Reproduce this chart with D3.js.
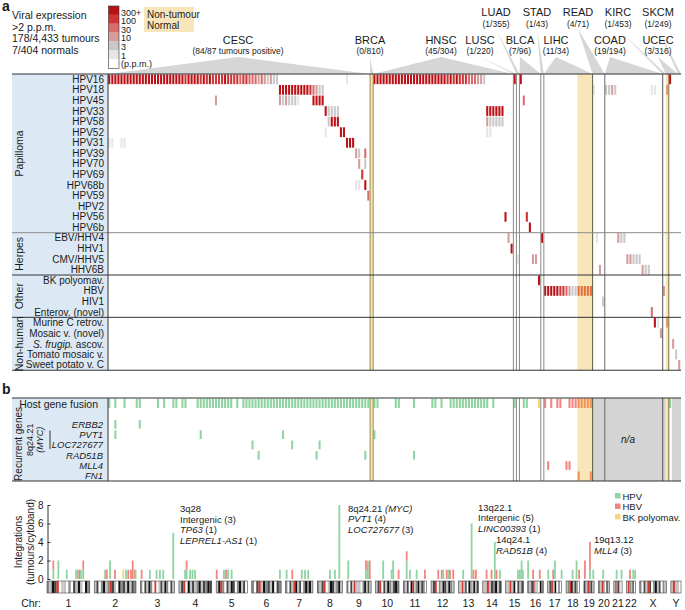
<!DOCTYPE html>
<html>
<head>
<meta charset="utf-8">
<script src="https://d3js.org/d3.v7.min.js"></script>
<style>
body { margin: 0; background: #fff; }
svg text { font-family: "Liberation Sans", Arial, Helvetica, sans-serif; fill: #1a1a1a; }
</style>
</head>
<body>
<div id="chart"></div>
<script>
// ---------- data: panel a ----------
// sample columns, left to right, grouped by cancer type
var sectionNames  = ["CESC","BRCA","HNSC","LUSC","LUAD","BLCA","STAD","LIHC","LIHC","READ","COAD","KIRC","UCEC","UCEC","SKCM"];
var sectionSizes  = [86, 1, 46, 1, 1, 7, 1, 11, 5, 4, 19, 1, 1, 3, 1];
var sectionNormal = [false, true, false, false, false, false, false, false, true, false, false, false, true, false, false];

var headerTop    = ["LUAD","STAD","READ","KIRC","SKCM"];
var headerTopN   = ["(1/355)","(1/43)","(4/71)","(1/453)","(1/249)"];
var headerTopCols = [[134,134],[142,142],[159,162],[182,182],[187,187]];
var headerBot    = ["CESC","BRCA","HNSC","LUSC","BLCA","LIHC","COAD","UCEC"];
var headerBotN   = ["(84/87 tumours positive)","(0/810)","(45/304)","(1/220)","(7/96)","(11/34)","(19/194)","(3/316)"];
var headerBotCols = [[0,85],[86,86],[87,132],[133,133],[135,141],[143,158],[163,181],[183,186]];

var groups = ["Papilloma","Herpes","Other","Non-human"];
var groupSizes = [15, 4, 4, 5];
var viruses = ["HPV16","HPV18","HPV45","HPV33","HPV58","HPV52","HPV31","HPV39","HPV70","HPV69","HPV68b","HPV59","HPV2","HPV56","HPV6b",
  "EBV/HHV4","HHV1","CMV/HHV5","HHV6B",
  "BK polyomav.","HBV","HIV1","Enterov. (novel)",
  "Murine C retrov.","Mosaic v. (novel)","S. frugip. ascov.","Tomato mosaic v.","Sweet potato v. C"];

// expression level per cell: 0=1, 1=3, 2=10, 3=30, 4=100, 5=300+ p.p.m. ; [first column, levels]
var hpv16 = [[0,"555555555555555555555555545555" + "4545444454444344" + "3332321211"], [78,"0"],
             [87,"555555555555555555555555" + "4545444" + "333221"], [133,"5"], [135,"5"], [184,"5"]];
var hpv18 = [[56,"555555555543211"], [159,"0"], [163,"1121"], [178,"00"], [183,"2"]];
var hpv45 = [[35,"2"], [56,"2121110"], [67,"5555"], [136,"3"]];
var hpv33 = [[71,"51111"], [124,"555555"]];
var hpv58 = [[72,"1555"], [124,"211111"]];
var hpv52 = [[71,"0"], [76,"55"], [124,"00"]];
var hpv31 = [[0,"00"], [4,"00"], [78,"555"]];
var hpv39 = [[81,"21"], [84,"3"]];
var hpv70 = [[82,"2"], [84,"1"]];
var hpv69 = [[83,"4"]];
var hpv68b = [[81,"00"], [84,"5"]];
var hpv59 = [[85,"3"]];
var hpv2 = [];
var hpv56 = [[130,"5"], [137,"4"]];
var hpv6b = [[138,"5"]];
var ebv = [[131,"2"], [142,"5"], [160,"0"], [167,"211"]];
var hhv1 = [[132,"5"]];
var cmv = [[134,"0"], [139,"22"], [170,"22111"]];
var hhv6b = [[161,"2"], [175,"211"]];
var bkv = [[141,"5"]];
var hbv = [[143,"55555443211"], [154,"44444"], [182,"2"]];
var hiv1 = [[162,"1"]];
var enterov = [[178,"3"]];
var murine = [[179,"50"], [183,"2"]];
var mosaic = [[181,"2"]];
var sfrugip = [[185,"2"]];
var tomato = [[186,"1"]];
var sweetPotato = [[187,"2"]];
var virusCells = [hpv16,hpv18,hpv45,hpv33,hpv58,hpv52,hpv31,hpv39,hpv70,hpv69,hpv68b,hpv59,hpv2,hpv56,hpv6b,
  ebv,hhv1,cmv,hhv6b,bkv,hbv,hiv1,enterov,murine,mosaic,sfrugip,tomato,sweetPotato];

var levelLabels = ["300+","100","30","10","3","1","(p.p.m.)"];

// ---------- data: panel b ----------
var fusionHPV = [[0,0],[2,2],[5,5],[9,10],[16,16],[18,18],[21,22],[24,25],[29,40],[42,42],[44,85],
                 [87,88],[94,95],[100,100],[106,107],[109,109],[112,124],[126,126],[133,133],[136,137],[184,184]];
var fusionHBV = [[143,143],[145,145],[147,148],[151,158]];
var fusionBK  = [[141,141]];
var recurrentGenes = ["ERBB2","PVT1","LOC727677","RAD51B","MLL4","FN1"];
var recurrentCols  = [[2,10],[2,30,57,87],[47,60,69],[49,68,84,100],[144,150,151],[154,158]];
var recurrentVirus = ["HPV","HPV","HPV","HPV","HBV","HBV"];
var naCols = [[159,182],[185,187]];

// ---------- data: integrations per cytoband ----------
var chrNames = ["1","2","3","4","5","6","7","8","9","10","11","12","13","14","15","16","17","18","19","20","21","22","X","Y"];
var chrLengths = [249,243,198,191,181,171,159,146,141,136,135,134,115,107,103,90,81,78,59,63,48,51,155,59];
var chrBands = ["2143c0110203141042","1302412c31042314132","2031420c013142031","13c041312413243","14c203143024130","203c142314032",
  "2031c413024241","213c01431241","2031c111024131","13c031421342","21304c1241320","13c021431421","11c130421413",
  "11c132413","11c140313","213c11042","13c14020","12c41320","31c231","21c2031","1c2310","1c2130","2031c302413021","1c110"];
// [chromosome index, position (Mb), HPV, HBV, BK polyomavirus]
var integrations = [
  [0,37,1,1,0],[0,66,2,0,0],[0,115,1,0,0],[0,169,1,0,0],[0,179,1,0,0],[0,188,0,1,0],[0,198,1,0,0],[0,211,1,1,0],
  [1,63,1,0,0],[1,73,0,1,0],[1,92,2,0,0],[1,121,0,1,0],[1,169,0,0,1],[1,185,1,0,0],[1,198,0,1,0],[1,214,0,1,0],[1,224,0,2,0],[1,237,0,1,0],[1,241,1,0,0],
  [2,7,0,1,0],[2,55,1,0,0],[2,94,1,0,0],[2,113,1,0,0],[2,133,1,0,0],[2,191,5,0,0],
  [3,36,1,0,0],[3,45,1,1,0],[3,65,1,0,0],[3,79,1,0,0],[3,94,1,0,0],
  [4,3,0,1,0],[4,45,1,0,0],[4,57,0,1,0],[4,69,1,0,0],[4,90,1,0,0],
  [5,164,1,0,0],
  [6,6,1,0,0],[6,39,0,1,0],[6,94,1,0,0],[6,113,1,0,0],[6,132,1,0,0],
  [7,73,1,0,0],[7,102,1,0,0],[7,128,8,0,0],
  [8,8,2,0,0],[8,111,1,1,0],[8,122,2,0,0],[8,133,0,2,0],
  [9,44,2,0,0],[9,93,1,0,0],[9,102,2,0,0],[9,134,0,1,0],
  [10,19,2,1,0],[10,38,1,0,0],[10,77,1,0,0],[10,125,0,1,0],
  [11,42,0,1,0],[11,62,0,1,0],[11,71,1,0,0],[11,91,0,1,0],[11,100,1,0,0],[11,110,0,1,0],[11,129,0,1,0],
  [12,27,1,0,0],[12,76,6,0,0],[12,87,0,1,0],[12,101,0,1,0],
  [13,22,0,1,0],[13,51,0,1,0],[13,70,4,0,0],[13,80,0,1,0],[13,100,1,0,0],
  [14,72,1,0,0],[14,83,1,0,0],[14,93,2,0,0],[14,100,1,0,0],
  [15,2,2,0,0],[15,31,0,1,0],[15,70,0,1,0],
  [16,3,1,0,0],[16,32,0,1,0],[16,42,2,0,0],[16,81,1,0,0],
  [17,38,1,0,0],[17,61,2,0,0],[17,76,0,1,0],
  [18,6,0,2,0],[18,35,1,3,0],[18,54,1,0,0],
  [19,27,1,0,0],
  [20,16,1,0,0],[20,45,1,0,0],
  [21,20,0,1,0],[21,39,1,0,0],[21,50,1,0,0]
];
var integrationTicks = [0,2,4,6,8];
var virusLegend = ["HPV","HBV","BK polyomav."];
// hot-spot notes: [text, italic] pieces per line
var hotspotNotes = [
  [[["3q28",0]],[["Intergenic (3)",0]],[["TP63",1],[" (1)",0]],[["LEPREL1-AS1",1],[" (1)",0]]],
  [[["8q24.21 ",0],["(MYC)",1]],[["PVT1",1],[" (4)",0]],[["LOC727677",1],[" (3)",0]]],
  [[["13q22.1",0]],[["Intergenic (5)",0]],[["LINC00393",1],[" (1)",0]]],
  [[["14q24.1",0]],[["RAD51B",1],[" (4)",0]]],
  [[["19q13.12",0]],[["MLL4",1],[" (3)",0]]]
];

// ---------- layout ----------
var notePos = [[180,508],[348,507.5],[478,506.5],[496,539],[594,539]];
var headerTopX = [496,537,578,618,658];
var headerBotX = [238,370,441,480,520,556,610,658];
var levelColours = ["#e6e6e6","#c9c9c9","#d59c9c","#d96b6b","#cf3535","#bb1016"];
var virusColour = {HPV:"#8fd4a2", HBV:"#f2857c", BK:"#f5d77a"};
var beige = "#f8e6ba", panelBlue = "#dce9f5", fanGrey = "#d6d6d6";

var svg = d3.select("#chart").append("svg").attr("width", 685).attr("height", 610);

var secStart = [], acc = 0;
sectionSizes.forEach(function(n) { secStart.push(acc); acc += n; });
var nCols = acc;
var isNormal = {};
sectionNormal.forEach(function(nrm, i) {
  if (nrm) for (var c = secStart[i]; c < secStart[i] + sectionSizes[i]; c++) isNormal[c] = true;
});

var x = d3.scaleBand().domain(d3.range(nCols)).range([108, 681]);
var bw = x.bandwidth();
var rowH = 10.58;
var aTop = 74, aBot = aTop + rowH * viruses.length;
var y = d3.scaleBand().domain(d3.range(viruses.length)).range([aTop, aBot]);
// panel b rows
var bTop = 398, hostH = 10.6, recTop = 419.2, recH = 10.3;
var bBot = recTop + recH * 6;

function cellColour(col, colour) {
  return isNormal[col] ? d3.interpolateRgb(colour, "#f39a35")(0.55) : colour;
}

// ---------- panel a header ----------
svg.append("text").attr("x", 2).attr("y", 10.5).style("font-size", "14px").style("font-weight", "bold").text("a");
svg.append("text").attr("x", 2).attr("y", 394).style("font-size", "14px").style("font-weight", "bold").text("b");

var intro = ["Viral expression", ">2 p.p.m.", "178/4,433 tumours", "7/404 normals"];
intro.forEach(function(t, i) {
  svg.append("text").attr("x", 12).attr("y", 15 + i * 11.5).attr("dominant-baseline", "central")
    .style("font-size", "10.5px").text(t);
});

// colour key
var keyColours = levelColours.slice().reverse().concat(["#ffffff"]);
keyColours.forEach(function(c, i) {
  svg.append("rect").attr("x", 108.5).attr("y", 6 + i * 8.9).attr("width", 10.5).attr("height", 8.9).attr("fill", c);
});
svg.append("rect").attr("x", 108.5).attr("y", 6).attr("width", 10.5).attr("height", 8.9 * 7)
  .attr("fill", "none").attr("stroke", "#333").attr("stroke-width", 0.6);
levelLabels.forEach(function(t, i) {
  svg.append("text").attr("x", 121).attr("y", 12.5 + i * 8.6).attr("dominant-baseline", "central")
    .style("font-size", "9px").text(t);
});
svg.append("rect").attr("x", 144).attr("y", 7).attr("width", 50).attr("height", 25).attr("fill", beige);
svg.append("text").attr("x", 147).attr("y", 14).attr("dominant-baseline", "central").style("font-size", "10px").text("Non-tumour");
svg.append("text").attr("x", 147).attr("y", 25.5).attr("dominant-baseline", "central").style("font-size", "10px").text("Normal");

// fans from cancer labels to their columns
function fan(lx, ly, cols) {
  var x0 = x(cols[0]), x1 = x(cols[1]) + bw;
  svg.append("path").attr("d", "M" + lx + "," + ly + "L" + x1 + "," + aTop + "L" + x0 + "," + aTop + "Z")
    .attr("fill", fanGrey);
}
headerTopCols.forEach(function(c, i) { fan(headerTopX[i], 29, c); });
headerBotCols.forEach(function(c, i) { fan(headerBotX[i], 57, c); });

headerTop.forEach(function(t, i) {
  svg.append("text").attr("x", headerTopX[i]).attr("y", 12).attr("text-anchor", "middle").attr("dominant-baseline", "central")
    .style("font-size", "11px").text(t);
  svg.append("text").attr("x", headerTopX[i]).attr("y", 23.5).attr("text-anchor", "middle").attr("dominant-baseline", "central")
    .style("font-size", "8.5px").text(headerTopN[i]);
});
headerBot.forEach(function(t, i) {
  svg.append("text").attr("x", headerBotX[i]).attr("y", 39.5).attr("text-anchor", "middle").attr("dominant-baseline", "central")
    .style("font-size", "11px").text(t);
  svg.append("text").attr("x", headerBotX[i]).attr("y", 51).attr("text-anchor", "middle").attr("dominant-baseline", "central")
    .style("font-size", "8.5px").text(headerBotN[i]);
});

// ---------- backgrounds ----------
svg.append("rect").attr("x", 12).attr("y", aTop).attr("width", 96).attr("height", aBot - aTop).attr("fill", panelBlue);
svg.append("rect").attr("x", 12).attr("y", bTop).attr("width", 96).attr("height", bBot - bTop).attr("fill", panelBlue);

sectionNormal.forEach(function(nrm, i) {
  if (!nrm) return;
  var x0 = x(secStart[i]), w = sectionSizes[i] * bw;
  [[aTop, aBot], [bTop, bBot]].forEach(function(p) {
    svg.append("rect").attr("x", x0).attr("y", p[0]).attr("width", w).attr("height", p[1] - p[0]).attr("fill", beige);
  });
});
naCols.forEach(function(r) {
  svg.append("rect").attr("x", x(r[0])).attr("y", bTop).attr("width", x(r[1]) + bw - x(r[0])).attr("height", bBot - bTop)
    .attr("fill", "#d4d4d4");
});
svg.append("text").attr("x", 628).attr("y", (bTop + bBot) / 2).attr("text-anchor", "middle").attr("dominant-baseline", "central")
  .style("font-size", "10px").style("font-style", "italic").text("n/a");

// ---------- heatmap cells ----------
var cells = [];
virusCells.forEach(function(runs, r) {
  runs.forEach(function(run) {
    run[1].split("").forEach(function(ch, k) { cells.push({row: r, col: run[0] + k, level: +ch}); });
  });
});
svg.append("g").selectAll("rect").data(cells).enter().append("rect")
  .attr("x", function(d) { return x(d.col) + 0.25; })
  .attr("y", function(d) { return y(d.row) + 0.4; })
  .attr("width", bw * 0.68)
  .attr("height", rowH - 0.8)
  .attr("fill", function(d) { return cellColour(d.col, levelColours[d.level]); });

// ---------- panel b cells ----------
var fusion = [];
[[fusionHPV, "HPV"], [fusionHBV, "HBV"], [fusionBK, "BK"]].forEach(function(f) {
  f[0].forEach(function(r) { for (var c = r[0]; c <= r[1]; c++) fusion.push({col: c, v: f[1]}); });
});
svg.append("g").selectAll("rect").data(fusion).enter().append("rect")
  .attr("x", function(d) { return x(d.col) + 0.25; })
  .attr("y", bTop + 0.6)
  .attr("width", bw * 0.68)
  .attr("height", hostH - 1.2)
  .attr("fill", function(d) { return cellColour(d.col, virusColour[d.v]); });

var rec = [];
recurrentCols.forEach(function(cols, i) {
  cols.forEach(function(c) { rec.push({row: i, col: c, v: recurrentVirus[i]}); });
});
svg.append("g").selectAll("rect").data(rec).enter().append("rect")
  .attr("x", function(d) { return x(d.col) + 0.25; })
  .attr("y", function(d) { return recTop + d.row * recH + 0.8; })
  .attr("width", bw * 0.68)
  .attr("height", recH - 1.6)
  .attr("fill", function(d) { return cellColour(d.col, virusColour[d.v]); });

// ---------- separators ----------
var vlines = [[86,"#9c8b4c"],[87,"#9c8b4c"],[133,"#8a8a8a"],[134,"#8a8a8a"],[135,"#8a8a8a"],[142,"#8a8a8a"],[143,"#8a8a8a"],
              [159,"#5e5a48"],[163,"#6a6a6a"],[182,"#555"],[184,"#7d7048"]];
vlines.forEach(function(v) {
  var xx = x(v[0]);
  [[aTop, aBot], [bTop, bBot]].forEach(function(p) {
    svg.append("line").attr("x1", xx).attr("x2", xx).attr("y1", p[0]).attr("y2", p[1])
      .attr("stroke", v[1]).attr("stroke-width", 1);
  });
});

var gEdges = [0], g0 = 0;
groupSizes.forEach(function(n) { g0 += n; gEdges.push(g0); });
gEdges.forEach(function(e, i) {
  var yy = aTop + e * rowH;
  svg.append("line").attr("x1", 12).attr("x2", 681).attr("y1", yy).attr("y2", yy)
    .attr("stroke", i == 1 ? "#8c8c8c" : "#333").attr("stroke-width", 1);
});
[bTop, bBot].forEach(function(yy) {
  svg.append("line").attr("x1", 12).attr("x2", 681).attr("y1", yy).attr("y2", yy).attr("stroke", "#333").attr("stroke-width", 1);
});
svg.append("line").attr("x1", 108).attr("x2", 108).attr("y1", aTop).attr("y2", aBot).attr("stroke", "#333");
svg.append("line").attr("x1", 108).attr("x2", 108).attr("y1", bTop).attr("y2", bBot).attr("stroke", "#333");

// ---------- row and group labels ----------
viruses.forEach(function(v, i) {
  var t = svg.append("text").attr("x", 104).attr("y", y(i) + rowH / 2).attr("text-anchor", "end")
    .attr("dominant-baseline", "central").style("font-size", "10px");
  if (v.indexOf("S. frugip.") == 0) {
    t.append("tspan").style("font-style", "italic").text("S. frugip.");
    t.append("tspan").text(" ascov.");
  } else t.text(v);
});
var gs = 0;
groups.forEach(function(g, i) {
  var cy = aTop + (gs + groupSizes[i] / 2) * rowH;
  gs += groupSizes[i];
  svg.append("text").attr("transform", "translate(19," + cy + ") rotate(-90)").attr("text-anchor", "middle")
    .attr("dominant-baseline", "central").style("font-size", "10.5px").text(g);
});

svg.append("text").attr("x", 98).attr("y", bTop + hostH / 2 + 0.5).attr("text-anchor", "end").attr("dominant-baseline", "central")
  .style("font-size", "10.5px").text("Host gene fusion");
recurrentGenes.forEach(function(g, i) {
  svg.append("text").attr("x", 103).attr("y", recTop + i * recH + recH / 2).attr("text-anchor", "end")
    .attr("dominant-baseline", "central").style("font-size", "9.5px").style("font-style", "italic").text(g);
});
svg.append("text").attr("transform", "translate(18," + (recTop + recH * 2.4) + ") rotate(-90)").attr("text-anchor", "middle")
  .attr("dominant-baseline", "central").style("font-size", "10px").text("Recurrent genes");
var myc = svg.append("text").attr("transform", "translate(35," + (recTop + recH * 2) + ") rotate(-90)")
  .attr("text-anchor", "middle").style("font-size", "9px");
myc.append("tspan").attr("x", 0).attr("dy", "-0.2em").text("8q24.21");
myc.append("tspan").attr("x", 0).attr("dy", "1.05em").style("font-style", "italic").text("(MYC)");
svg.append("line").attr("x1", 50).attr("x2", 50).attr("y1", recTop + recH + 1).attr("y2", recTop + recH * 3 - 1)
  .attr("stroke", "#333").attr("stroke-width", 1);

// ---------- integration bar chart ----------
var gapMb = 26, offs = [], cum = 0;
chrLengths.forEach(function(l) { offs.push(cum); cum += l + gapMb; });
var gx = d3.scaleLinear().domain([0, cum - gapMb]).range([47, 681]);
var gy = d3.scaleLinear().domain([0, 8]).range([579, 505]);

svg.append("g").attr("transform", "translate(47.5,0)")
  .call(d3.axisLeft(gy).tickValues(integrationTicks).tickSize(-3).tickSizeOuter(0).tickPadding(4))
  .call(function(g) {
    g.selectAll("text").style("font-size", "10px").attr("fill", "#1a1a1a");
    g.selectAll("line,path").attr("stroke", "#333");
  });
var ylab = svg.append("text").attr("transform", "translate(23,542) rotate(-90)").attr("text-anchor", "middle")
  .style("font-size", "10px");
ylab.append("tspan").attr("x", 0).attr("dy", "-0.1em").text("Integrations");
ylab.append("tspan").attr("x", 0).attr("dy", "1.15em").text("(tumours/cytoband)");

var stacks = [];
integrations.forEach(function(d) {
  var base = 0;
  [[d[2], "HPV"], [d[3], "HBV"], [d[4], "BK"]].forEach(function(p) {
    if (p[0] > 0) { stacks.push({pos: offs[d[0]] + d[1], y0: base, y1: base + p[0], v: p[1]}); base += p[0]; }
  });
});
svg.append("g").selectAll("rect").data(stacks).enter().append("rect")
  .attr("x", function(d) { return gx(d.pos) - 0.9; })
  .attr("y", function(d) { return gy(d.y1); })
  .attr("width", 1.8)
  .attr("height", function(d) { return gy(d.y0) - gy(d.y1); })
  .attr("fill", function(d) { return virusColour[d.v]; });

// ideogram
var ideoTop = 581, ideoH = 12;
var bandColour = {"0":"#ffffff","1":"#c4c4c4","2":"#8a8a8a","3":"#474747","4":"#111111","c":"#d8352c"};
chrNames.forEach(function(name, i) {
  var x0 = gx(offs[i]), x1 = gx(offs[i] + chrLengths[i]);
  var bands = chrBands[i].split(""), w = (x1 - x0) / bands.length;
  bands.forEach(function(b, k) {
    svg.append("rect").attr("x", x0 + k * w).attr("y", ideoTop).attr("width", w + 0.05).attr("height", ideoH).attr("fill", bandColour[b]);
  });
  svg.append("rect").attr("x", x0).attr("y", ideoTop).attr("width", x1 - x0).attr("height", ideoH)
    .attr("fill", "none").attr("stroke", "#444").attr("stroke-width", 0.6);
  svg.append("text").attr("x", (x0 + x1) / 2).attr("y", 603).attr("text-anchor", "middle").attr("dominant-baseline", "central")
    .style("font-size", "10.5px").text(name);
});
svg.append("text").attr("x", 41).attr("y", 603).attr("text-anchor", "end").attr("dominant-baseline", "central")
  .style("font-size", "10.5px").text("Chr:");

// notes
hotspotNotes.forEach(function(lines, i) {
  lines.forEach(function(parts, j) {
    var t = svg.append("text").attr("x", notePos[i][0]).attr("y", notePos[i][1] + j * 10.5)
      .attr("dominant-baseline", "central").style("font-size", "9.5px");
    parts.forEach(function(p) {
      t.append("tspan").style("font-style", p[1] ? "italic" : "normal").text(p[0]);
    });
  });
});

// legend
var legendKeys = ["HPV", "HBV", "BK"];
virusLegend.forEach(function(t, i) {
  svg.append("rect").attr("x", 615).attr("y", 493 + i * 10.5).attr("width", 5.5).attr("height", 5.5).attr("fill", virusColour[legendKeys[i]]);
  svg.append("text").attr("x", 622.5).attr("y", 496 + i * 10.5).attr("dominant-baseline", "central")
    .style("font-size", "9.5px").text(t);
});
</script>
</body>
</html>
